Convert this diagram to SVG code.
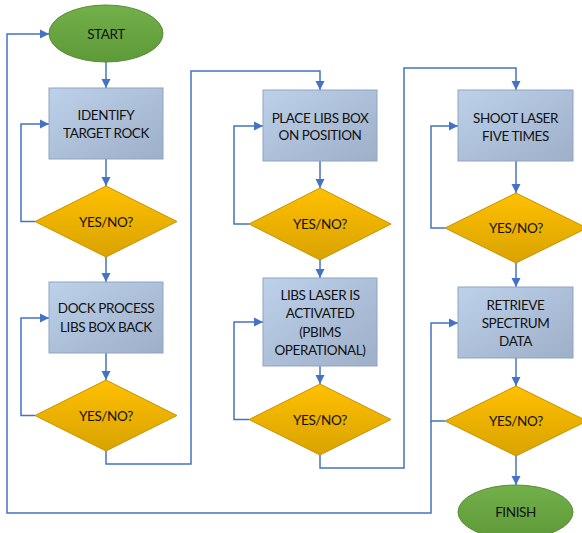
<svg xmlns="http://www.w3.org/2000/svg" width="582" height="533" viewBox="0 0 582 533">
<defs>
<linearGradient id="gBox" x1="0" y1="0" x2="1" y2="1">
<stop offset="0" stop-color="#BDD1EA"/>
<stop offset="1" stop-color="#9EAFC8"/>
</linearGradient>
<linearGradient id="gDia" x1="0" y1="0" x2="0" y2="1">
<stop offset="0" stop-color="#FFC000"/>
<stop offset="1" stop-color="#D9A300"/>
</linearGradient>
<linearGradient id="gEll" x1="0" y1="0" x2="0" y2="1">
<stop offset="0" stop-color="#72B04A"/>
<stop offset="1" stop-color="#5E9A38"/>
</linearGradient>
<marker id="arr" markerUnits="userSpaceOnUse" markerWidth="10" markerHeight="10" refX="9" refY="5" orient="auto">
<path d="M0,0.5 L9,5 L0,9.5 z" fill="#4472C4"/>
</marker>
<style>
.box{fill:url(#gBox);stroke:#8FA4C2;stroke-width:1}
.dia{fill:url(#gDia);stroke:#C49300;stroke-width:1}
.ell{fill:url(#gEll);stroke:#5A8A3A;stroke-width:1}
.t{font-family:Lato,"Liberation Sans",sans-serif;font-size:13.5px;letter-spacing:-0.4px;fill:#111;text-anchor:middle}
.c{fill:none;stroke:#4472C4;stroke-width:1.5}
.a{marker-end:url(#arr)}
</style>
</defs>
<g id="connectors">
<path class="c a" d="M106 62 V88"/>
<path class="c a" d="M445 421 H431 V323 H458"/>
<path class="c a" d="M431 421 V513 H7 V34 H49"/>
<path class="c a" d="M106 159 V186"/>
<path class="c a" d="M35 221.5 H21 V124 H49"/>
<path class="c a" d="M106 257 V282"/>
<path class="c a" d="M106 353 V380"/>
<path class="c a" d="M35 415.5 H21 V318 H49"/>
<path class="c a" d="M106 451 V464 H191 V71 H320 V90"/>
<path class="c a" d="M320 161 V188"/>
<path class="c a" d="M249 224 H234 V126 H263"/>
<path class="c a" d="M320 260 V278"/>
<path class="c a" d="M320 366 V384"/>
<path class="c a" d="M249 419.5 H234 V322 H263"/>
<path class="c a" d="M320 455 V468 H404 V68 H516 V90"/>
<path class="c a" d="M516 161 V193"/>
<path class="c a" d="M445 228 H431 V126 H458"/>
<path class="c a" d="M516 263 V287"/>
<path class="c a" d="M516 358 V386"/>
<path class="c a" d="M516 456 V485"/>
</g>
<g id="start">
<ellipse class="ell" cx="106" cy="33.5" rx="57" ry="28.5"/>
<text class="t" x="106" y="38.5">START</text>
</g>
<g id="identify">
<rect class="box" x="49" y="88" width="114" height="71"/>
<text class="t" x="106" y="120">IDENTIFY</text>
<text class="t" x="106" y="138">TARGET ROCK</text>
</g>
<g id="d1">
<polygon class="dia" points="106,186 177,221.5 106,257 35,221.5"/>
<text class="t" x="106" y="226.5">YES/NO?</text>
</g>
<g id="dock">
<rect class="box" x="49" y="282" width="114" height="71"/>
<text class="t" x="106" y="313">DOCK PROCESS</text>
<text class="t" x="106" y="332">LIBS BOX BACK</text>
</g>
<g id="d2">
<polygon class="dia" points="106,380 177,415.5 106,451 35,415.5"/>
<text class="t" x="106" y="420.5">YES/NO?</text>
</g>
<g id="place">
<rect class="box" x="263" y="90" width="114" height="71"/>
<text class="t" x="320" y="123">PLACE LIBS BOX</text>
<text class="t" x="320" y="140">ON POSITION</text>
</g>
<g id="d3">
<polygon class="dia" points="320,188 391,224 320,260 249,224"/>
<text class="t" x="320" y="229">YES/NO?</text>
</g>
<g id="laser">
<rect class="box" x="263" y="278" width="114" height="88"/>
<text class="t" x="320" y="300">LIBS LASER IS</text>
<text class="t" x="320" y="318">ACTIVATED</text>
<text class="t" x="320" y="337">(PBIMS</text>
<text class="t" x="320" y="355">OPERATIONAL)</text>
</g>
<g id="d4">
<polygon class="dia" points="320,384 391,419.5 320,455 249,419.5"/>
<text class="t" x="320" y="424.5">YES/NO?</text>
</g>
<g id="shoot">
<rect class="box" x="458" y="90" width="115" height="71"/>
<text class="t" x="515.5" y="123">SHOOT LASER</text>
<text class="t" x="515.5" y="141">FIVE TIMES</text>
</g>
<g id="d5">
<polygon class="dia" points="516,193 587,228 516,263 445,228"/>
<text class="t" x="516" y="233">YES/NO?</text>
</g>
<g id="retrieve">
<rect class="box" x="458" y="287" width="115" height="71"/>
<text class="t" x="515.5" y="310">RETRIEVE</text>
<text class="t" x="515.5" y="328">SPECTRUM</text>
<text class="t" x="515.5" y="346">DATA</text>
</g>
<g id="d6">
<polygon class="dia" points="516,386 587,421 516,456 445,421"/>
<text class="t" x="516" y="426">YES/NO?</text>
</g>
<g id="finish">
<ellipse class="ell" cx="515.5" cy="512" rx="57.5" ry="27"/>
<text class="t" x="515.5" y="517">FINISH</text>
</g>
</svg>
